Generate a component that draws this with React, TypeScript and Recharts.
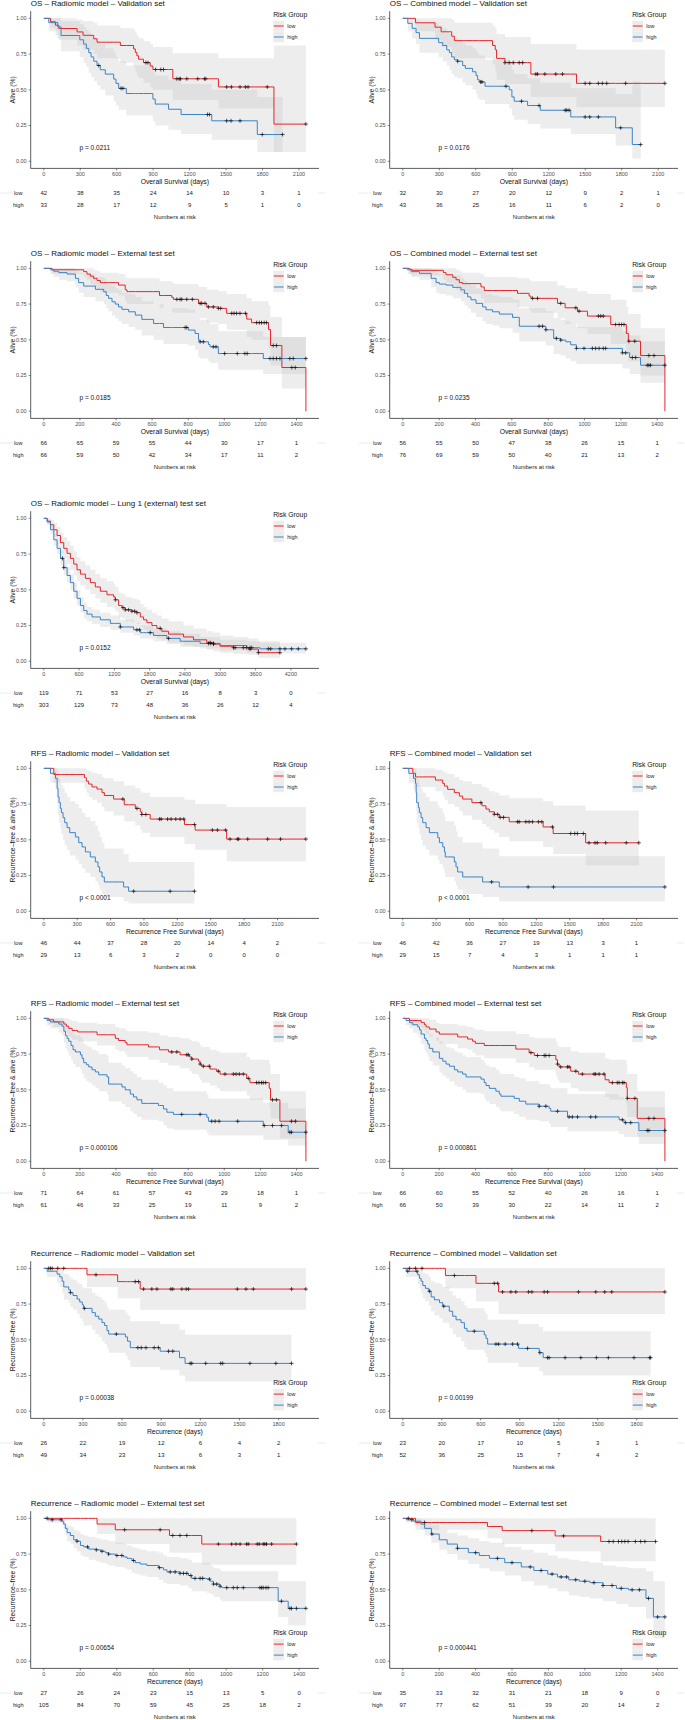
import React from 'react';
import { ComposedChart, Area, Line, Scatter, XAxis, YAxis } from 'recharts';

// each step: [time, survival, lower CI, upper CI]
type Step = [number, number, number, number];

const RED = '#e5262b';
const BLUE = '#3b84c5';
const BAND = '#c4c4c4';

const OS_VAL_TICKS = [0, 300, 600, 900, 1200, 1500, 1800, 2100];
const EXT_TICKS = [0, 200, 400, 600, 800, 1000, 1200, 1400];
const LUNG_TICKS = [0, 600, 1200, 1800, 2400, 3000, 3600, 4200];
const REC_VAL_TICKS = [0, 300, 600, 900, 1200, 1500, 1800];
const Y_TICKS = [0, 0.25, 0.5, 0.75, 1];

// ---- OS radiomic validation
const OS_RAD_VAL_LOW: Step[] = [[0,1,1,1],[55,.976,.93,1],[96,.952,.88,1],[123,.929,.85,1],[274,.905,.81,.99],[323,.881,.78,.98],[411,.857,.75,.97],[438,.833,.72,.95],[630,.81,.69,.93],[739,.786,.66,.92],[753,.762,.63,.90],[766,.738,.60,.88],[780,.714,.58,.86],[820,.69,.55,.84],[876,.666,.52,.82],[898,.642,.50,.80],[1062,.577,.43,.755],[1437,.52,.37,.72],[1894,.26,.065,.81]];
const OS_RAD_VAL_LOW_CENS = [840,857,920,963,985,1095,1114,1125,1177,1267,1322,1333,1505,1544,1615,1659,1681,1839,2157];
const OS_RAD_VAL_HIGH: Step[] = [[0,1,1,1],[41,.97,.91,1],[115,.94,.86,1],[142,.88,.77,.98],[296,.85,.73,.96],[328,.82,.69,.94],[350,.79,.66,.92],[370,.76,.62,.90],[389,.73,.59,.88],[411,.70,.56,.86],[438,.67,.53,.84],[465,.64,.50,.82],[506,.61,.46,.79],[575,.575,.42,.76],[594,.545,.39,.73],[616,.51,.36,.70],[679,.474,.32,.67],[898,.435,.28,.63],[917,.40,.25,.60],[1026,.364,.22,.57],[1130,.327,.19,.54],[1382,.283,.15,.50],[1757,.187,.065,.45]];
const OS_RAD_VAL_HIGH_CENS = [452,635,651,1347,1363,1505,1541,1615,1798,1965];
const OS_RAD_VAL_RISK_LOW = [42,38,35,24,14,10,3,1];
const OS_RAD_VAL_RISK_HIGH = [33,28,17,12,9,5,1,0];

// ---- OS combined validation
const OS_COMB_VAL_LOW: Step[] = [[0,1,1,1],[104,.969,.91,1],[265,.938,.85,1],[315,.906,.80,1],[402,.875,.76,.99],[424,.844,.72,.97],[738,.81,.68,.95],[760,.78,.64,.93],[771,.72,.57,.89],[840,.69,.54,.87],[1053,.61,.45,.82],[1428,.545,.38,.78]];
const OS_COMB_VAL_LOW_CENS = [840,875,908,957,985,1094,1108,1168,1258,1313,1499,1537,1608,1641,1677,1832,2155];
const OS_COMB_VAL_HIGH: Step[] = [[0,1,1,1],[41,.965,.91,1],[77,.93,.86,1],[109,.9,.82,.99],[137,.86,.76,.97],[295,.83,.73,.95],[328,.81,.70,.93],[361,.78,.67,.91],[383,.76,.64,.89],[402,.73,.61,.87],[424,.71,.59,.86],[451,.70,.58,.85],[492,.67,.55,.83],[514,.65,.53,.81],[574,.626,.50,.79],[602,.60,.47,.77],[615,.57,.44,.75],[629,.555,.43,.74],[676,.525,.40,.71],[875,.50,.37,.69],[897,.45,.32,.64],[916,.42,.29,.61],[1026,.39,.26,.58],[1130,.357,.23,.55],[1381,.31,.19,.51],[1750,.234,.11,.47],[1887,.117,.02,.56]];
const OS_COMB_VAL_HIGH_CENS = [451,640,651,848,976,1121,1335,1348,1367,1499,1537,1608,1791,1956];
const OS_COMB_VAL_RISK_LOW = [32,30,27,20,12,9,2,1];
const OS_COMB_VAL_RISK_HIGH = [43,36,25,16,11,6,2,0];

// ---- OS radiomic external
const OS_RAD_EXT_LOW: Step[] = [[0,1,1,1],[46,.99,.96,1],[221,.977,.94,1],[239,.96,.92,1],[258,.945,.89,1],[276,.93,.87,.99],[295,.915,.85,.98],[313,.90,.83,.97],[414,.883,.81,.96],[451,.85,.77,.94],[461,.837,.75,.93],[641,.81,.72,.91],[709,.797,.70,.90],[718,.783,.69,.89],[857,.755,.65,.87],[903,.73,.62,.85],[967,.72,.61,.84],[1013,.685,.57,.82],[1124,.645,.52,.79],[1151,.62,.50,.77],[1245,.572,.44,.74],[1256,.46,.32,.66],[1319,.306,.16,.52],[1452,0,0,0]];
const OS_RAD_EXT_LOW_CENS = [737,755,764,792,823,866,875,893,912,939,967,980,1041,1054,1068,1087,1118,1179,1194,1206,1221,1234,1271,1289,1374,1393];
const OS_RAD_EXT_HIGH: Step[] = [[0,1,1,1],[37,.99,.96,1],[55,.98,.94,1],[83,.97,.92,1],[129,.96,.91,1],[175,.93,.87,.99],[193,.90,.83,.97],[221,.876,.80,.96],[286,.853,.77,.94],[332,.836,.75,.93],[346,.81,.72,.91],[359,.79,.70,.89],[378,.766,.67,.88],[396,.75,.65,.86],[414,.73,.63,.85],[433,.713,.61,.83],[470,.696,.59,.82],[507,.673,.57,.80],[543,.643,.53,.77],[608,.614,.50,.75],[663,.586,.47,.72],[801,.568,.46,.71],[838,.544,.43,.69],[857,.498,.38,.65],[866,.486,.37,.64],[912,.467,.35,.62],[921,.451,.34,.61],[967,.404,.29,.56],[1216,.369,.26,.52]];
const OS_RAD_EXT_HIGH_CENS = [783,792,866,884,939,954,1002,1072,1114,1127,1253,1271,1289,1308,1363,1382,1452];
const OS_RAD_EXT_RISK_LOW = [66,65,59,55,44,30,17,1];
const OS_RAD_EXT_RISK_HIGH = [66,59,50,42,34,17,11,2];

// ---- OS combined external
const OS_COMB_EXT_LOW: Step[] = [[0,1,1,1],[37,.993,.96,1],[51,.986,.95,1],[223,.97,.92,1],[238,.955,.90,1],[275,.937,.88,1],[293,.92,.85,.99],[311,.90,.83,.98],[329,.893,.82,.97],[430,.87,.79,.96],[448,.845,.76,.94],[631,.825,.73,.93],[695,.806,.71,.92],[705,.79,.69,.91],[851,.755,.65,.88],[893,.724,.61,.86],[961,.70,.58,.84],[1016,.666,.54,.82],[1144,.607,.47,.78],[1230,.544,.40,.73],[1241,.49,.35,.68],[1308,.39,.25,.58],[1442,0,0,0]];
const OS_COMB_EXT_LOW_CENS = [714,741,869,952,970,1076,1089,1103,1171,1190,1204,1217,1244,1276,1354,1382];
const OS_COMB_EXT_HIGH: Step[] = [[0,1,1,1],[27,.99,.96,1],[46,.977,.94,1],[92,.965,.92,1],[156,.93,.87,.99],[183,.90,.83,.97],[201,.89,.82,.96],[238,.883,.81,.96],[275,.867,.79,.95],[320,.85,.77,.93],[339,.825,.74,.91],[357,.80,.72,.89],[375,.78,.69,.88],[403,.755,.66,.86],[439,.73,.63,.84],[458,.71,.61,.82],[494,.696,.60,.81],[531,.68,.58,.80],[604,.657,.55,.78],[641,.595,.49,.72],[787,.57,.46,.70],[830,.51,.40,.65],[869,.498,.39,.64],[897,.486,.37,.63],[924,.465,.35,.61],[955,.44,.33,.59],[1208,.409,.30,.56],[1248,.376,.26,.53],[1308,.322,.20,.49]];
const OS_COMB_EXT_HIGH_CENS = [750,769,787,845,869,955,997,1043,1061,1080,1103,1116,1208,1226,1263,1281,1345,1354,1363,1442];
const OS_COMB_EXT_RISK_LOW = [56,55,50,47,38,26,15,1];
const OS_COMB_EXT_RISK_HIGH = [76,69,59,50,40,21,13,2];

// ---- OS radiomic Lung 1
const OS_LUNG1_LOW: Step[] = [[0,1,1,1],[57,.98,.955,1],[113,.955,.92,.99],[170,.92,.87,.97],[226,.88,.82,.94],[283,.83,.76,.90],[339,.79,.72,.87],[396,.755,.68,.84],[452,.72,.64,.81],[509,.68,.60,.77],[565,.64,.56,.73],[622,.61,.53,.70],[707,.58,.50,.67],[792,.55,.47,.64],[876,.52,.44,.61],[961,.49,.41,.58],[1074,.465,.38,.56],[1187,.45,.37,.54],[1216,.43,.35,.52],[1272,.39,.31,.48],[1329,.375,.30,.47],[1385,.36,.28,.45],[1498,.35,.27,.44],[1583,.34,.26,.43],[1640,.31,.24,.40],[1696,.29,.22,.38],[1753,.27,.20,.36],[1838,.25,.18,.34],[1922,.23,.16,.32],[2007,.21,.15,.30],[2120,.19,.13,.28],[2375,.17,.11,.25],[2544,.15,.10,.23],[2770,.13,.08,.21],[2884,.12,.07,.20],[2997,.105,.06,.18],[3223,.095,.05,.17],[3477,.085,.045,.16],[3647,.06,.025,.14]];
const OS_LUNG1_LOW_CENS = [1216,1346,1385,1442,1498,1543,1583,1979,2827,2884,3223,3251,3392,3449,3505,3647,4014];
const OS_LUNG1_HIGH: Step[] = [[0,1,1,1],[57,.975,.96,.99],[113,.92,.89,.95],[170,.85,.81,.89],[226,.79,.75,.83],[283,.72,.67,.77],[339,.655,.60,.71],[396,.60,.55,.66],[452,.55,.50,.61],[509,.49,.44,.55],[565,.44,.39,.50],[622,.39,.34,.45],[678,.355,.30,.41],[735,.33,.28,.38],[820,.31,.26,.36],[961,.29,.24,.34],[1131,.265,.22,.32],[1300,.24,.20,.29],[1527,.22,.18,.27],[1640,.20,.16,.25],[1866,.18,.14,.23],[2092,.16,.12,.21],[2318,.14,.10,.19],[2657,.125,.09,.17],[2997,.11,.075,.15],[3449,.095,.06,.14],[3675,.087,.055,.13]];
const OS_LUNG1_HIGH_CENS = [317,339,1300,1583,1628,1809,2120,2799,2838,2884,3505,3534,3816,3856,4014,4099,4212,4325,4455];
const OS_LUNG1_RISK_LOW = [119,71,53,27,16,8,3,0];
const OS_LUNG1_RISK_HIGH = [303,129,73,48,36,26,12,4];

// ---- RFS radiomic validation
const RFS_RAD_VAL_LOW: Step[] = [[0,1,1,1],[90,.957,.90,1],[365,.935,.86,1],[382,.91,.83,.99],[403,.89,.80,.98],[433,.87,.78,.97],[478,.855,.76,.96],[523,.83,.73,.94],[544,.81,.70,.93],[627,.785,.67,.91],[723,.745,.63,.88],[822,.72,.60,.86],[867,.696,.57,.84],[881,.677,.55,.83],[956,.645,.52,.80],[1264,.607,.47,.78],[1360,.568,.43,.75],[1643,.505,.35,.73]];
const RFS_RAD_VAL_LOW_CENS = [711,837,881,917,1040,1055,1112,1144,1186,1225,1258,1354,1515,1560,1634,1673,1739,1751,1832,2011,2127,2355];
const RFS_RAD_VAL_HIGH: Step[] = [[0,1,1,1],[60,.965,.90,1],[105,.93,.85,1],[120,.86,.74,.99],[128,.80,.67,.95],[137,.76,.62,.93],[149,.72,.57,.90],[158,.69,.54,.88],[173,.655,.50,.86],[188,.62,.46,.83],[209,.585,.43,.80],[233,.55,.39,.77],[284,.52,.36,.75],[314,.48,.33,.72],[344,.45,.30,.69],[374,.415,.27,.66],[418,.38,.24,.63],[463,.345,.21,.60],[487,.31,.18,.56],[502,.275,.15,.52],[523,.24,.12,.48],[544,.205,.10,.44],[717,.17,.07,.40],[762,.14,.055,.345]];
const RFS_RAD_VAL_HIGH_CENS = [807,1135,1354];
const RFS_RAD_VAL_RISK_LOW = [46,44,37,28,20,14,4,2];
const RFS_RAD_VAL_RISK_HIGH = [29,13,6,3,2,0,0,0];

// ---- RFS combined validation
const RFS_COMB_VAL_LOW: Step[] = [[0,1,1,1],[90,.965,.91,1],[114,.94,.87,1],[293,.918,.84,.99],[359,.895,.81,.98],[374,.876,.78,.97],[403,.853,.75,.96],[463,.83,.73,.94],[508,.806,.70,.92],[538,.785,.67,.91],[621,.76,.64,.89],[711,.738,.61,.87],[747,.715,.59,.86],[777,.696,.57,.84],[822,.678,.55,.83],[867,.657,.52,.81],[956,.626,.49,.79],[1261,.59,.45,.77],[1351,.544,.40,.74],[1643,.479,.32,.705]];
const RFS_COMB_VAL_LOW_CENS = [702,822,852,875,905,1031,1046,1106,1135,1165,1219,1249,1345,1509,1545,1569,1622,1673,1727,1748,1823,2008,2121];
const RFS_COMB_VAL_HIGH: Step[] = [[0,1,1,1],[54,.965,.90,1],[96,.93,.85,1],[114,.895,.79,1],[120,.83,.70,.98],[125,.76,.62,.93],[140,.725,.58,.91],[149,.69,.54,.88],[164,.655,.50,.86],[179,.62,.46,.83],[209,.585,.43,.80],[239,.55,.39,.77],[314,.515,.36,.74],[329,.48,.33,.72],[359,.45,.30,.69],[374,.415,.27,.66],[382,.38,.24,.63],[463,.345,.21,.60],[478,.31,.18,.56],[493,.275,.15,.52],[538,.24,.12,.48],[717,.205,.10,.44],[867,.17,.07,.385]];
const RFS_COMB_VAL_HIGH_CENS = [798,1126,1354,2355];
const RFS_COMB_VAL_RISK_LOW = [46,42,36,27,19,13,3,1];
const RFS_COMB_VAL_RISK_HIGH = [29,15,7,4,3,1,1,1];

// ---- RFS radiomic external
const RFS_RAD_EXT_LOW: Step[] = [[0,1,1,1],[28,.99,.96,1],[55,.975,.94,1],[111,.96,.91,1],[125,.945,.89,1],[138,.93,.87,.99],[157,.915,.85,.98],[188,.905,.84,.97],[295,.885,.81,.96],[396,.86,.78,.94],[414,.845,.77,.93],[451,.83,.75,.92],[461,.815,.73,.91],[580,.80,.71,.90],[641,.78,.69,.88],[691,.765,.67,.87],[755,.745,.65,.86],[807,.73,.63,.85],[820,.715,.61,.84],[857,.70,.59,.83],[866,.68,.57,.81],[875,.665,.55,.80],[921,.645,.53,.78],[958,.63,.51,.77],[976,.61,.49,.76],[1124,.58,.46,.73],[1142,.55,.43,.71],[1249,.51,.38,.68],[1256,.43,.30,.61],[1308,.28,.16,.49],[1452,0,0,0]];
const RFS_RAD_EXT_LOW_CENS = [709,737,792,801,820,866,884,917,967,1004,1050,1065,1083,1105,1133,1179,1192,1206,1216,1229,1267,1289,1372,1394];
const RFS_RAD_EXT_HIGH: Step[] = [[0,1,1,1],[18,.985,.95,1],[37,.975,.93,1],[83,.96,.90,1],[101,.945,.88,1],[111,.91,.83,.98],[120,.88,.79,.96],[129,.86,.77,.95],[138,.84,.74,.93],[151,.81,.71,.91],[162,.78,.68,.89],[175,.765,.66,.88],[203,.745,.64,.87],[212,.72,.61,.85],[221,.69,.58,.82],[236,.675,.56,.81],[249,.66,.55,.80],[267,.64,.53,.78],[286,.625,.51,.77],[304,.605,.49,.75],[350,.59,.47,.74],[359,.54,.42,.69],[433,.52,.40,.67],[451,.50,.38,.65],[479,.47,.35,.63],[497,.45,.33,.61],[516,.43,.31,.59],[543,.405,.29,.57],[635,.39,.28,.55],[663,.366,.25,.53],[682,.343,.23,.51],[718,.328,.22,.49],[903,.308,.20,.47],[912,.28,.18,.44],[1216,.25,.15,.41],[1354,.203,.11,.37]];
const RFS_RAD_EXT_HIGH_CENS = [764,866,930,949,971,1074,1221,1267,1317,1363,1372,1452];
const RFS_RAD_EXT_RISK_LOW = [71,64,61,57,43,29,18,1];
const RFS_RAD_EXT_RISK_HIGH = [61,46,33,25,19,11,9,2];

// ---- RFS combined external
const RFS_COMB_EXT_LOW: Step[] = [[0,1,1,1],[37,.985,.95,1],[101,.97,.93,1],[119,.955,.91,1],[128,.94,.89,1],[146,.925,.87,.99],[183,.905,.84,.97],[201,.89,.82,.96],[302,.87,.79,.95],[357,.855,.78,.94],[384,.84,.76,.93],[399,.825,.74,.92],[448,.81,.72,.91],[622,.785,.69,.89],[695,.76,.66,.87],[723,.74,.64,.86],[842,.71,.60,.84],[851,.68,.57,.81],[860,.66,.55,.80],[924,.63,.51,.77],[966,.61,.49,.76],[1113,.57,.45,.72],[1135,.55,.43,.71],[1230,.515,.39,.68],[1235,.44,.31,.61],[1290,.30,.17,.49],[1442,0,0,0]];
const RFS_COMB_EXT_LOW_CENS = [705,741,778,787,805,851,869,906,915,952,988,1052,1061,1080,1107,1153,1180,1190,1208,1217,1235,1277,1354,1382];
const RFS_COMB_EXT_HIGH: Step[] = [[0,1,1,1],[18,.985,.95,1],[37,.97,.93,1],[55,.955,.90,1],[82,.94,.88,.99],[92,.92,.86,.98],[101,.89,.82,.96],[119,.86,.78,.94],[128,.845,.76,.93],[137,.82,.73,.91],[146,.79,.70,.89],[165,.765,.67,.87],[201,.72,.62,.84],[220,.70,.60,.82],[238,.68,.58,.80],[256,.665,.56,.79],[284,.64,.53,.77],[302,.625,.52,.76],[329,.61,.50,.74],[348,.59,.48,.73],[430,.575,.47,.71],[448,.55,.44,.69],[458,.53,.42,.67],[476,.51,.40,.66],[512,.49,.38,.64],[531,.47,.36,.62],[540,.455,.35,.61],[613,.44,.33,.59],[641,.42,.31,.58],[677,.40,.29,.56],[750,.385,.28,.54],[805,.37,.26,.53],[814,.35,.24,.51],[906,.31,.21,.47],[1190,.29,.19,.45],[1217,.27,.17,.43],[1299,.215,.12,.38]];
const RFS_COMB_EXT_HIGH_CENS = [750,787,851,915,933,961,1034,1061,1208,1226,1254,1345,1354,1442];
const RFS_COMB_EXT_RISK_LOW = [66,60,55,52,40,26,16,1];
const RFS_COMB_EXT_RISK_HIGH = [66,50,39,30,22,14,11,2];

// ---- Recurrence radiomic validation
const REC_RAD_VAL_LOW: Step[] = [[0,1,1,1],[331,.955,.87,1],[566,.907,.79,1],[739,.855,.71,1]];
const REC_RAD_VAL_LOW_CENS = [38,51,64,107,153,400,701,726,765,828,867,974,989,1058,1091,1109,1483,1550,1606,1899,2009];
const REC_RAD_VAL_HIGH: Step[] = [[0,1,1,1],[25,.98,.94,1],[102,.96,.90,1],[122,.94,.87,1],[140,.91,.83,.99],[153,.87,.78,.96],[191,.85,.76,.95],[204,.83,.73,.93],[224,.81,.71,.92],[255,.785,.68,.90],[275,.765,.65,.89],[295,.745,.63,.87],[305,.72,.60,.86],[370,.69,.57,.83],[395,.665,.54,.81],[421,.645,.52,.80],[446,.62,.49,.78],[466,.60,.47,.76],[484,.565,.44,.73],[497,.54,.41,.71],[625,.52,.39,.69],[642,.49,.36,.67],[663,.445,.31,.63],[892,.42,.29,.61],[1040,.375,.25,.57],[1083,.335,.21,.535]];
const REC_RAD_VAL_HIGH_CENS = [204,311,556,721,747,783,846,879,956,989,1122,1134,1241,1356,1371,1580,1779,1899];
const REC_RAD_VAL_RISK_LOW = [26,22,19,12,6,4,2];
const REC_RAD_VAL_RISK_HIGH = [49,34,23,13,6,3,1];

// ---- Recurrence combined validation
const REC_COMB_VAL_LOW: Step[] = [[0,1,1,1],[328,.95,.86,1],[563,.895,.77,1],[737,.835,.68,1]];
const REC_COMB_VAL_LOW_CENS = [51,97,148,397,704,730,768,832,870,968,993,1088,1114,1352,1485,1554,1608,2017];
const REC_COMB_VAL_HIGH: Step[] = [[0,1,1,1],[26,.98,.94,1],[115,.955,.89,1],[128,.93,.86,1],[141,.91,.83,.99],[154,.88,.79,.97],[174,.86,.77,.96],[200,.84,.74,.94],[218,.80,.70,.91],[243,.78,.67,.90],[282,.76,.65,.89],[307,.735,.62,.87],[358,.70,.58,.84],[384,.665,.54,.81],[410,.64,.52,.79],[448,.62,.49,.77],[474,.58,.45,.74],[494,.56,.43,.72],[627,.535,.41,.70],[640,.51,.38,.68],[653,.47,.34,.64],[891,.44,.31,.61],[1050,.41,.28,.59],[1080,.375,.25,.56]];
const REC_COMB_VAL_HIGH_CENS = [38,108,205,315,550,717,737,788,845,883,960,1055,1114,1126,1249,1370,1490,1582,1779,1900,1907];
const REC_COMB_VAL_RISK_LOW = [23,20,17,10,5,3,1];
const REC_COMB_VAL_RISK_HIGH = [52,36,25,15,7,4,2];

// ---- Recurrence radiomic external
const REC_RAD_EXT_LOW: Step[] = [[0,1,1,1],[292,.96,.89,1],[392,.92,.82,1],[689,.88,.76,1],[866,.82,.675,1]];
const REC_RAD_EXT_LOW_CENS = [443,638,707,747,784,957,1030,1054,1076,1112,1121,1170,1181,1203,1212,1221,1249,1385];
const REC_RAD_EXT_HIGH: Step[] = [[0,1,1,1],[22,.99,.97,1],[100,.98,.95,1],[109,.96,.92,.99],[118,.93,.88,.97],[128,.90,.84,.95],[146,.88,.82,.94],[164,.85,.79,.92],[182,.84,.77,.91],[201,.81,.74,.89],[219,.80,.73,.88],[246,.785,.71,.87],[283,.78,.70,.86],[310,.77,.69,.85],[337,.76,.68,.85],[355,.75,.67,.84],[392,.74,.66,.83],[438,.73,.65,.82],[456,.72,.64,.81],[483,.705,.62,.80],[501,.69,.61,.79],[529,.68,.60,.78],[565,.67,.59,.77],[629,.655,.57,.76],[656,.64,.55,.74],[675,.625,.54,.73],[747,.615,.53,.72],[793,.60,.51,.71],[811,.58,.49,.69],[893,.575,.48,.69],[912,.56,.47,.67],[930,.54,.45,.65],[966,.525,.43,.64],[975,.515,.42,.63],[1285,.42,.31,.56],[1340,.37,.25,.56]];
const REC_RAD_EXT_HIGH_CENS = [18,46,95,182,240,288,319,355,401,428,492,634,693,720,747,766,784,806,829,857,871,908,930,948,966,1003,1039,1061,1094,1185,1194,1203,1218,1230,1303,1349,1358,1385,1437];
const REC_RAD_EXT_RISK_LOW = [27,26,24,23,15,13,5,0];
const REC_RAD_EXT_RISK_HIGH = [105,84,70,59,45,25,18,2];

// ---- Recurrence combined external
const REC_COMB_EXT_LOW: Step[] = [[0,1,1,1],[70,.971,.92,1],[465,.943,.86,1],[546,.914,.82,1],[837,.877,.77,1],[1087,.838,.70,1]];
const REC_COMB_EXT_LOW_CENS = [30,120,709,883,1133,1156,1185,1203,1220,1238,1278,1307,1330,1389];
const REC_COMB_EXT_HIGH: Step[] = [[0,1,1,1],[20,.99,.97,1],[60,.98,.95,1],[99,.96,.92,.99],[120,.93,.88,.97],[157,.89,.83,.95],[200,.85,.78,.92],[244,.82,.75,.90],[300,.79,.71,.88],[360,.76,.68,.86],[420,.74,.65,.84],[476,.72,.63,.83],[560,.69,.60,.80],[651,.66,.56,.78],[720,.635,.53,.76],[796,.61,.51,.74],[850,.59,.49,.72],[912,.57,.46,.71],[970,.56,.45,.70],[1028,.55,.44,.69],[1100,.53,.42,.67],[1174,.51,.40,.66],[1240,.50,.38,.65],[1336,.44,.30,.63],[1377,.31,.16,.56]];
const REC_COMB_EXT_HIGH_CENS = [50,160,300,400,520,600,700,760,820,870,900,950,1000,1050,1100,1150,1200,1260,1300,1350,1400,1440];
const REC_COMB_EXT_RISK_LOW = [35,33,32,31,21,18,9,0];
const REC_COMB_EXT_RISK_HIGH = [97,77,62,51,39,20,14,2];

interface PanelDef {
  col: number; row: number; title: string; yLabel: string; xLabel: string; ticks: number[];
  low: Step[]; lowCens: number[]; high: Step[]; highCens: number[];
  riskLow: number[]; riskHigh: number[]; p: string; legendBottom?: boolean;
}

const OS_X = 'Overall Survival (days)';
const RFS_X = 'Recurrence Free Survival (days)';
const REC_X = 'Recurrence (days)';
const OS_Y = 'Alive (%)';
const RFS_Y = 'Recurrence–free & alive (%)';
const REC_Y = 'Recurrence–free (%)';

const PANELS: PanelDef[] = [
  { col: 0, row: 0, title: 'OS – Radiomic model – Validation set', yLabel: OS_Y, xLabel: OS_X, ticks: OS_VAL_TICKS, low: OS_RAD_VAL_LOW, lowCens: OS_RAD_VAL_LOW_CENS, high: OS_RAD_VAL_HIGH, highCens: OS_RAD_VAL_HIGH_CENS, riskLow: OS_RAD_VAL_RISK_LOW, riskHigh: OS_RAD_VAL_RISK_HIGH, p: 'p = 0.0211' },
  { col: 1, row: 0, title: 'OS – Combined model – Validation set', yLabel: OS_Y, xLabel: OS_X, ticks: OS_VAL_TICKS, low: OS_COMB_VAL_LOW, lowCens: OS_COMB_VAL_LOW_CENS, high: OS_COMB_VAL_HIGH, highCens: OS_COMB_VAL_HIGH_CENS, riskLow: OS_COMB_VAL_RISK_LOW, riskHigh: OS_COMB_VAL_RISK_HIGH, p: 'p = 0.0176' },
  { col: 0, row: 1, title: 'OS – Radiomic model – External test set', yLabel: OS_Y, xLabel: OS_X, ticks: EXT_TICKS, low: OS_RAD_EXT_LOW, lowCens: OS_RAD_EXT_LOW_CENS, high: OS_RAD_EXT_HIGH, highCens: OS_RAD_EXT_HIGH_CENS, riskLow: OS_RAD_EXT_RISK_LOW, riskHigh: OS_RAD_EXT_RISK_HIGH, p: 'p = 0.0185' },
  { col: 1, row: 1, title: 'OS – Combined model – External test set', yLabel: OS_Y, xLabel: OS_X, ticks: EXT_TICKS, low: OS_COMB_EXT_LOW, lowCens: OS_COMB_EXT_LOW_CENS, high: OS_COMB_EXT_HIGH, highCens: OS_COMB_EXT_HIGH_CENS, riskLow: OS_COMB_EXT_RISK_LOW, riskHigh: OS_COMB_EXT_RISK_HIGH, p: 'p = 0.0235' },
  { col: 0, row: 2, title: 'OS – Radiomic model – Lung 1 (external) test set', yLabel: OS_Y, xLabel: OS_X, ticks: LUNG_TICKS, low: OS_LUNG1_LOW, lowCens: OS_LUNG1_LOW_CENS, high: OS_LUNG1_HIGH, highCens: OS_LUNG1_HIGH_CENS, riskLow: OS_LUNG1_RISK_LOW, riskHigh: OS_LUNG1_RISK_HIGH, p: 'p = 0.0152' },
  { col: 0, row: 3, title: 'RFS – Radiomic model – Validation set', yLabel: RFS_Y, xLabel: RFS_X, ticks: OS_VAL_TICKS, low: RFS_RAD_VAL_LOW, lowCens: RFS_RAD_VAL_LOW_CENS, high: RFS_RAD_VAL_HIGH, highCens: RFS_RAD_VAL_HIGH_CENS, riskLow: RFS_RAD_VAL_RISK_LOW, riskHigh: RFS_RAD_VAL_RISK_HIGH, p: 'p < 0.0001' },
  { col: 1, row: 3, title: 'RFS – Combined model – Validation set', yLabel: RFS_Y, xLabel: RFS_X, ticks: OS_VAL_TICKS, low: RFS_COMB_VAL_LOW, lowCens: RFS_COMB_VAL_LOW_CENS, high: RFS_COMB_VAL_HIGH, highCens: RFS_COMB_VAL_HIGH_CENS, riskLow: RFS_COMB_VAL_RISK_LOW, riskHigh: RFS_COMB_VAL_RISK_HIGH, p: 'p < 0.0001' },
  { col: 0, row: 4, title: 'RFS – Radiomic model – External test set', yLabel: RFS_Y, xLabel: RFS_X, ticks: EXT_TICKS, low: RFS_RAD_EXT_LOW, lowCens: RFS_RAD_EXT_LOW_CENS, high: RFS_RAD_EXT_HIGH, highCens: RFS_RAD_EXT_HIGH_CENS, riskLow: RFS_RAD_EXT_RISK_LOW, riskHigh: RFS_RAD_EXT_RISK_HIGH, p: 'p = 0.000106' },
  { col: 1, row: 4, title: 'RFS – Combined model – External test set', yLabel: RFS_Y, xLabel: RFS_X, ticks: EXT_TICKS, low: RFS_COMB_EXT_LOW, lowCens: RFS_COMB_EXT_LOW_CENS, high: RFS_COMB_EXT_HIGH, highCens: RFS_COMB_EXT_HIGH_CENS, riskLow: RFS_COMB_EXT_RISK_LOW, riskHigh: RFS_COMB_EXT_RISK_HIGH, p: 'p = 0.000861' },
  { col: 0, row: 5, title: 'Recurrence – Radiomic model – Validation set', yLabel: REC_Y, xLabel: REC_X, ticks: REC_VAL_TICKS, low: REC_RAD_VAL_LOW, lowCens: REC_RAD_VAL_LOW_CENS, high: REC_RAD_VAL_HIGH, highCens: REC_RAD_VAL_HIGH_CENS, riskLow: REC_RAD_VAL_RISK_LOW, riskHigh: REC_RAD_VAL_RISK_HIGH, p: 'p = 0.00038', legendBottom: true },
  { col: 1, row: 5, title: 'Recurrence – Combined model – Validation set', yLabel: REC_Y, xLabel: REC_X, ticks: REC_VAL_TICKS, low: REC_COMB_VAL_LOW, lowCens: REC_COMB_VAL_LOW_CENS, high: REC_COMB_VAL_HIGH, highCens: REC_COMB_VAL_HIGH_CENS, riskLow: REC_COMB_VAL_RISK_LOW, riskHigh: REC_COMB_VAL_RISK_HIGH, p: 'p = 0.00199', legendBottom: true },
  { col: 0, row: 6, title: 'Recurrence – Radiomic model – External test set', yLabel: REC_Y, xLabel: REC_X, ticks: EXT_TICKS, low: REC_RAD_EXT_LOW, lowCens: REC_RAD_EXT_LOW_CENS, high: REC_RAD_EXT_HIGH, highCens: REC_RAD_EXT_HIGH_CENS, riskLow: REC_RAD_EXT_RISK_LOW, riskHigh: REC_RAD_EXT_RISK_HIGH, p: 'p = 0.00654', legendBottom: true },
  { col: 1, row: 6, title: 'Recurrence – Combined model – External test set', yLabel: REC_Y, xLabel: REC_X, ticks: EXT_TICKS, low: REC_COMB_EXT_LOW, lowCens: REC_COMB_EXT_LOW_CENS, high: REC_COMB_EXT_HIGH, highCens: REC_COMB_EXT_HIGH_CENS, riskLow: REC_COMB_EXT_RISK_LOW, riskHigh: REC_COMB_EXT_RISK_HIGH, p: 'p = 0.000441', legendBottom: true },
];

const W = 325;
const H = 225;
const AXIS_X = 30.7;
const PLOT_RIGHT = 319;
const PLOT_MID = (AXIS_X + PLOT_RIGHT) / 2;

function valAt(steps: Step[], t: number): Step {
  let r = steps[0];
  for (const s of steps) {
    if (s[0] <= t) r = s; else break;
  }
  return r;
}

const Plus = (props: any) => {
  const { cx, cy } = props;
  if (cx == null || cy == null) return null;
  return (
    <g>
      <line x1={cx - 2} x2={cx + 2} y1={cy} y2={cy} stroke="#111" strokeWidth={0.7} />
      <line x1={cx} x2={cx} y1={cy - 2} y2={cy + 2} stroke="#111" strokeWidth={0.7} />
    </g>
  );
};

function Panel({ def }: { def: PanelDef }) {
  const endLow = Math.max(def.low[def.low.length - 1][0], ...def.lowCens);
  const endHigh = Math.max(def.high[def.high.length - 1][0], ...def.highCens);
  const maxT = Math.max(endLow, endHigh);
  const times = Array.from(new Set([...def.low.map(s => s[0]), ...def.high.map(s => s[0]), endLow, endHigh])).sort((a, b) => a - b);
  const rows = times.map(t => {
    const r: any = { t };
    if (t <= endLow) { const v = valAt(def.low, t); r.lowS = v[1]; r.lowB = [v[2], v[3]]; }
    if (t <= endHigh) { const v = valAt(def.high, t); r.highS = v[1]; r.highB = [v[2], v[3]]; }
    return r;
  });
  const censLow = def.lowCens.map(t => ({ t, s: valAt(def.low, t)[1] }));
  const censHigh = def.highCens.map(t => ({ t, s: valAt(def.high, t)[1] }));

  const renderTick = (props: any) => {
    const { x, payload } = props;
    const i = def.ticks.indexOf(payload.value);
    return (
      <g>
        <text x={x} y={174.2} textAnchor="middle" dominantBaseline="central" fontSize={5.5} fill="#4d4d4d">{payload.value}</text>
        <text x={x} y={193} textAnchor="middle" dominantBaseline="central" fontSize={6} fill="#1a1a1a">{def.riskLow[i]}</text>
        <text x={x} y={205.3} textAnchor="middle" dominantBaseline="central" fontSize={6} fill="#1a1a1a">{def.riskHigh[i]}</text>
      </g>
    );
  };

  const lt = def.legendBottom ? 132.3 : 14.2;
  const left = def.col * 359.3;
  const top = def.row * 250;

  return (
    <div style={{ position: 'absolute', left, top, width: W, height: H }}>
      <ComposedChart width={W} height={H} data={rows} margin={{ top: 11.2, right: W - PLOT_RIGHT, bottom: H - 168.4 - 20, left: 0 }}>
        <XAxis dataKey="t" type="number" domain={[-0.05 * maxT, 1.05 * maxT]} allowDataOverflow ticks={def.ticks} interval={0}
          height={20} tickSize={2} axisLine={{ stroke: '#333', strokeWidth: 0.8 }} tickLine={{ stroke: '#333', strokeWidth: 0.6 }} tick={renderTick} />
        <YAxis type="number" domain={[-0.05, 1.05]} allowDataOverflow ticks={Y_TICKS} interval={0} width={AXIS_X} tickSize={2}
          tickFormatter={(v: number) => v.toFixed(2)} tick={{ fontSize: 5.5, fill: '#4d4d4d' }}
          axisLine={{ stroke: '#333', strokeWidth: 0.8 }} tickLine={{ stroke: '#333', strokeWidth: 0.6 }} />
        <Area type="stepAfter" dataKey="lowB" stroke="none" fill={BAND} fillOpacity={0.3} dot={false} activeDot={false} isAnimationActive={false} />
        <Area type="stepAfter" dataKey="highB" stroke="none" fill={BAND} fillOpacity={0.3} dot={false} activeDot={false} isAnimationActive={false} />
        <Line type="stepAfter" dataKey="lowS" stroke={RED} strokeWidth={1} dot={false} activeDot={false} isAnimationActive={false} />
        <Line type="stepAfter" dataKey="highS" stroke={BLUE} strokeWidth={1} dot={false} activeDot={false} isAnimationActive={false} />
        <Scatter data={censLow} dataKey="s" shape={Plus} isAnimationActive={false} />
        <Scatter data={censHigh} dataKey="s" shape={Plus} isAnimationActive={false} />
      </ComposedChart>
      <svg width={W} height={H} style={{ position: 'absolute', left: 0, top: 0, pointerEvents: 'none' }}>
        <text x={AXIS_X} y={3.4} fontSize={8} fill="#111" dominantBaseline="central">{def.title}</text>
        <text transform={`translate(12,89.8) rotate(-90)`} textAnchor="middle" dominantBaseline="central" fontSize={6.8} fill="#111">{def.yLabel}</text>
        <text x={PLOT_MID} y={181.6} textAnchor="middle" dominantBaseline="central" fontSize={6.8} fill="#111">{def.xLabel}</text>
        <line x1={0} x2={13} y1={193} y2={193} stroke="#e6e6e6" strokeWidth={0.8} />
        <line x1={318} x2={325} y1={193} y2={193} stroke="#e6e6e6" strokeWidth={0.8} />
        <text x={18.3} y={193} textAnchor="middle" dominantBaseline="central" fontSize={5.6} fill="#1a1a1a">low</text>
        <text x={18.3} y={205.3} textAnchor="middle" dominantBaseline="central" fontSize={5.6} fill="#1a1a1a">high</text>
        <text x={PLOT_MID} y={217} textAnchor="middle" dominantBaseline="central" fontSize={6} fill="#1a1a1a">Numbers at risk</text>
        <text x={79.6} y={147} dominantBaseline="central" fontSize={6.5} fill="#111">{def.p}</text>
        <text x={273.2} y={lt} dominantBaseline="central" fontSize={6.8} fill="#111">Risk Group</text>
        <rect x={273.3} y={lt + 6.5} width={10.7} height={10.7} fill="#ececec" />
        <line x1={273.8} x2={283.6} y1={lt + 11.8} y2={lt + 11.8} stroke={RED} strokeWidth={1} />
        <rect x={273.3} y={lt + 17.3} width={10.7} height={10.7} fill="#ececec" />
        <line x1={273.8} x2={283.6} y1={lt + 22.8} y2={lt + 22.8} stroke={BLUE} strokeWidth={1} />
        <text x={287.3} y={lt + 11.8} dominantBaseline="central" fontSize={5.4} fill="#1a1a1a">low</text>
        <text x={287.3} y={lt + 22.8} dominantBaseline="central" fontSize={5.4} fill="#1a1a1a">high</text>
      </svg>
    </div>
  );
}

export default function App() {
  return (
    <div style={{ position: 'absolute', left: 0, top: 0, width: 685, height: 1720, background: '#fff', overflow: 'hidden', fontFamily: '"Liberation Sans", Arial, sans-serif' }}>
      {PANELS.map(p => <Panel key={p.title} def={p} />)}
    </div>
  );
}
